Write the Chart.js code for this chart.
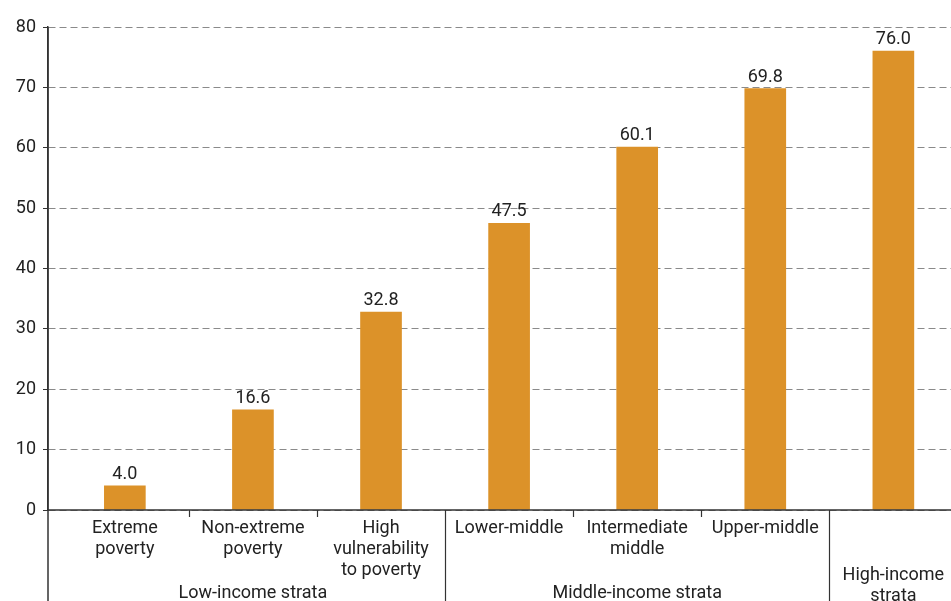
<!DOCTYPE html>
<html>
<head>
<meta charset="utf-8">
<script src="https://cdn.jsdelivr.net/npm/chart.js@4"></script>
<style>
  html, body { margin: 0; padding: 0; background: #fff; }
  #wrap { width: 951px; height: 601px; }
</style>
</head>
<body>
<div id="wrap"><canvas id="grafico" width="951" height="601"></canvas></div>
<script>
// categorias e valores
const categorias = [
  ["Extreme", "poverty"],
  ["Non-extreme", "poverty"],
  ["High", "vulnerability", "to poverty"],
  ["Lower-middle"],
  ["Intermediate", "middle"],
  ["Upper-middle"],
  [],
];
const valores = [4.0, 16.6, 32.8, 47.5, 60.1, 69.8, 76.0];
const grupos = [["Low-income strata"], ["Middle-income strata"], ["High-income", "strata"]];
const tamanhoGrupos = [3, 3, 1];
const yTicks = [0, 10, 20, 30, 40, 50, 60, 70, 80];

const FONTE = "Roboto, 'Liberation Sans', sans-serif";
const COR_TEXTO = "#222";
const COR_EIXO = "#333";

// desenha rótulos, separadores e valores
const rotulosPlugin = {
  id: "rotulos",
  afterDraw(chart) {
    const ctx = chart.ctx;
    const x = chart.scales.x;
    const y = chart.scales.y;
    const area = chart.chartArea;
    const base = y.getPixelForValue(0);
    const fundo = chart.height;

    ctx.save();
    // linha do eixo x
    ctx.strokeStyle = COR_EIXO;
    ctx.lineWidth = 1.5;
    ctx.beginPath();
    ctx.moveTo(area.left, base);
    ctx.lineTo(area.right, base);
    // eixo y estendido até o fundo
    ctx.moveTo(area.left, area.top);
    ctx.lineTo(area.left, fundo);
    ctx.stroke();

    // separadores
    let idx = 0;
    const fimGrupos = [];
    tamanhoGrupos.forEach((n) => {
      idx += n;
      fimGrupos.push(idx - 1);
    });
    ctx.lineWidth = 1.2;
    for (let i = 0; i < valores.length - 1; i++) {
      const px = Math.round(x.getPixelForValue(i + 0.5)) + 0.5;
      ctx.beginPath();
      ctx.moveTo(px, base);
      ctx.lineTo(px, fimGrupos.includes(i) ? fundo : base + 7);
      ctx.stroke();
    }

    // rótulos das categorias
    ctx.fillStyle = COR_TEXTO;
    ctx.textAlign = "center";
    ctx.textBaseline = "alphabetic";
    ctx.font = "18px " + FONTE;
    categorias.forEach((linhas, i) => {
      const px = x.getPixelForValue(i);
      linhas.forEach((t, j) => ctx.fillText(t, px, 533 + j * 21));
    });

    // rótulos dos grupos
    let inicio = 0;
    grupos.forEach((linhas, g) => {
      const fim = inicio + tamanhoGrupos[g] - 1;
      const px = (x.getPixelForValue(inicio) + x.getPixelForValue(fim)) / 2;
      const y0 = linhas.length > 1 ? 580 : 598;
      linhas.forEach((t, j) => ctx.fillText(t, px, y0 + j * 21));
      inicio = fim + 1;
    });

    // valores acima das barras
    ctx.font = "18px " + FONTE;
    valores.forEach((v, i) => {
      ctx.fillText(v.toFixed(1), x.getPixelForValue(i), y.getPixelForValue(v) - 7);
    });
    ctx.restore();
  },
};

new Chart(document.getElementById("grafico").getContext("2d"), {
  type: "bar",
  data: {
    datasets: [
      {
        data: valores.map((v, i) => ({ x: i, y: v })),
        backgroundColor: "#dc9229",
        barThickness: 41,
      },
    ],
  },
  options: {
    responsive: false,
    animation: false,
    layout: { padding: { top: 27, bottom: 91, left: 0, right: 0 } },
    plugins: { legend: { display: false }, tooltip: { enabled: false } },
    scales: {
      x: {
        type: "linear",
        min: -0.6,
        max: 6.45,
        offset: false,
        display: false,
      },
      y: {
        min: 0,
        max: 80,
        afterFit(scale) {
          scale.width = 48;
        },
        afterBuildTicks(scale) {
          scale.ticks = yTicks.map((v) => ({ value: v }));
        },
        ticks: {
          color: COR_TEXTO,
          font: { family: FONTE, size: 18 },
          padding: 7,
        },
        grid: {
          color: "#8a8a8a",
          lineWidth: 1,
          tickColor: COR_EIXO,
          tickLength: 5,
          drawTicks: true,
        },
        border: { display: true, color: COR_EIXO, width: 1.5, dash: [7, 4] },
      },
    },
  },
  plugins: [rotulosPlugin],
});
</script>
</body>
</html>
